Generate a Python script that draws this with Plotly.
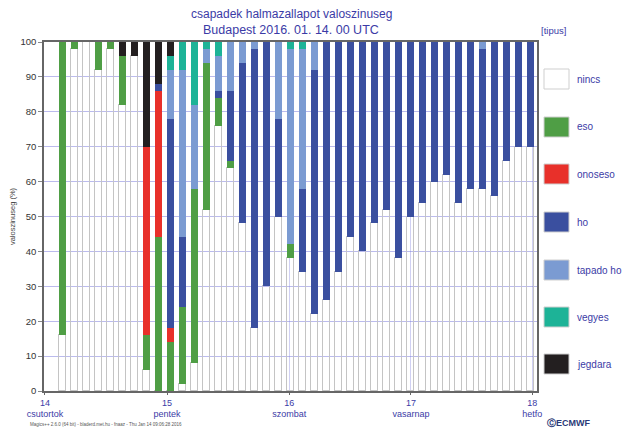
"""Csapadek halmazallapot valoszinuseg - Budapest, stacked bar chart."""

import plotly.graph_objects as go

# idolepesek (oszlop sorszam)
steps = list(range(40))

nincs = [16, 98, 100, 92, 98, 82, 96, 6, 0, 0,
         2, 8, 52, 76, 64, 48, 18, 30, 50, 38,
         34, 22, 26, 34, 44, 40, 48, 52, 38, 50,
         54, 60, 62, 54, 58, 58, 56, 66, 70, 70]
eso = [84, 2, 0, 8, 2, 14, 0, 10, 44, 14,
       22, 50, 42, 8, 2, 0, 0, 0, 0, 4,
       0, 0, 0, 0, 0, 0, 0, 0, 0, 0,
       0, 0, 0, 0, 0, 0, 0, 0, 0, 0]
onoseso = [0, 0, 0, 0, 0, 0, 0, 54, 42, 4,
           0, 0, 0, 0, 0, 0, 0, 0, 0, 0,
           0, 0, 0, 0, 0, 0, 0, 0, 0, 0,
           0, 0, 0, 0, 0, 0, 0, 0, 0, 0]
ho = [0, 0, 0, 0, 0, 0, 0, 0, 2, 60,
      20, 0, 0, 2, 20, 46, 80, 70, 28, 0,
      24, 70, 74, 66, 56, 60, 52, 48, 62, 50,
      46, 40, 38, 46, 42, 40, 44, 34, 30, 30]
tapado_ho = [0, 0, 0, 0, 0, 0, 0, 0, 0, 14,
             48, 24, 4, 10, 14, 6, 2, 0, 22, 56,
             40, 8, 0, 0, 0, 0, 0, 0, 0, 0,
             0, 0, 0, 0, 0, 2, 0, 0, 0, 0]
vegyes = [0, 0, 0, 0, 0, 0, 0, 0, 0, 4,
          8, 18, 2, 4, 0, 0, 0, 0, 0, 2,
          2, 0, 0, 0, 0, 0, 0, 0, 0, 0,
          0, 0, 0, 0, 0, 0, 0, 0, 0, 0]
jegdara = [0, 0, 0, 0, 0, 4, 4, 30, 12, 4,
           0, 0, 0, 0, 0, 0, 0, 0, 0, 0,
           0, 0, 0, 0, 0, 0, 0, 0, 0, 0,
           0, 0, 0, 0, 0, 0, 0, 0, 0, 0]

series_names = ["nincs", "eso", "onoseso", "ho", "tapado ho", "vegyes", "jegdara"]
series_values = [nincs, eso, onoseso, ho, tapado_ho, vegyes, jegdara]
series_colors = ["rgba(255,255,255,0)", "#4f9e45", "#e8302a", "#3a4f9f",
                 "#7b9bd2", "#1db397", "#231f20"]

day_labels = ["14<br>csutortok", "15<br>pentek", "16<br>szombat",
              "17<br>vasarnap", "18<br>hetfo"]

BLUE = "#3b3ba6"
OFF = 8  # the page body margin shifts the figure by this much
W, H = 631 - OFF, 432 - OFF
L, R, T, B = 44 - OFF, 537 - OFF, 42 - OFF, 391 - OFF  # plot area in pixels


def px_x(p):
    return (p - OFF - L) / (R - L)


def px_y(p):
    return (B - (p - OFF)) / (B - T)


fig = go.Figure()
for name, vals, col in zip(series_names, series_values, series_colors):
    line = dict(color="#c4c4c4", width=1.3) if name == "nincs" else dict(width=0)
    fig.add_trace(go.Bar(x=steps, y=vals, name=name, width=0.6,
                         marker=dict(color=col, line=line), showlegend=False))

day_pos = [-1.45, 8.72, 18.9, 29.05, 39.15]

fig.update_layout(
    barmode="stack",
    width=W, height=H,
    margin=dict(l=L, r=W - R, t=T, b=H - B, autoexpand=False),
    paper_bgcolor="white", plot_bgcolor="white",
    font=dict(family="Liberation Sans, Arial, sans-serif", color=BLUE),
    bargap=0,
)
fig.update_xaxes(range=[-1.53, 39.55], tickmode="array", tickvals=day_pos,
                 ticktext=day_labels, tickfont=dict(size=9, color=BLUE),
                 showgrid=True, gridcolor="rgba(120,120,220,0.35)", gridwidth=1,
                 showline=True, linecolor="#666", linewidth=1.5, mirror=True,
                 ticks="outside", ticklen=2, tickcolor="#666", zeroline=False)
fig.update_yaxes(range=[0, 100], dtick=10, tickfont=dict(size=9.5, color="#333"),
                 showgrid=True, gridcolor="rgba(120,120,220,0.5)", gridwidth=1,
                 showline=True, linecolor="#666", linewidth=1.5, mirror=True,
                 ticks="outside", ticklen=4, tickcolor="#888", zeroline=False,
                 title=dict(text="valoszinuseg (%)", font=dict(size=7.5, color="#444"),
                            standoff=4))

ann = [
    dict(text="csapadek halmazallapot valoszinuseg", x=px_x(291), y=px_y(14),
         font=dict(size=12, color=BLUE)),
    dict(text="Budapest 2016. 01. 14. 00 UTC", x=px_x(291), y=px_y(30),
         font=dict(size=12.5, color=BLUE)),
    dict(text="[tipus]", x=px_x(553), y=px_y(30), font=dict(size=9.5, color=BLUE)),
    dict(text="Magics++ 2.6.0 (64 bit) - bladerd.met.hu - fnaaz - Thu Jan 14 09:06:28 2016",
         x=px_x(28), y=px_y(424), xanchor="left", font=dict(size=4.5, color="#555")),
    dict(text="<b>ⒸECMWF</b>", x=px_x(568), y=px_y(423),
         font=dict(size=9, color="#2b3a78")),
]

shapes = []
box_tops = [69, 117, 164, 212, 260, 307, 354]
for name, col, top in zip(series_names, series_colors, box_tops):
    fill = "white" if name == "nincs" else col
    shapes.append(dict(type="rect", xref="paper", yref="paper",
                       x0=px_x(544), x1=px_x(569), y0=px_y(top + 20), y1=px_y(top),
                       fillcolor=fill, line=dict(color="#cfcfcf", width=1)))
    ann.append(dict(text=name, x=px_x(575), y=px_y(top + 10), xanchor="left",
                    font=dict(size=10, color=BLUE)))

for a in ann:
    a.setdefault("xanchor", "center")
    a.update(xref="paper", yref="paper", showarrow=False, yanchor="middle")

fig.update_layout(annotations=ann, shapes=shapes)

fig.write_html("out.html")
